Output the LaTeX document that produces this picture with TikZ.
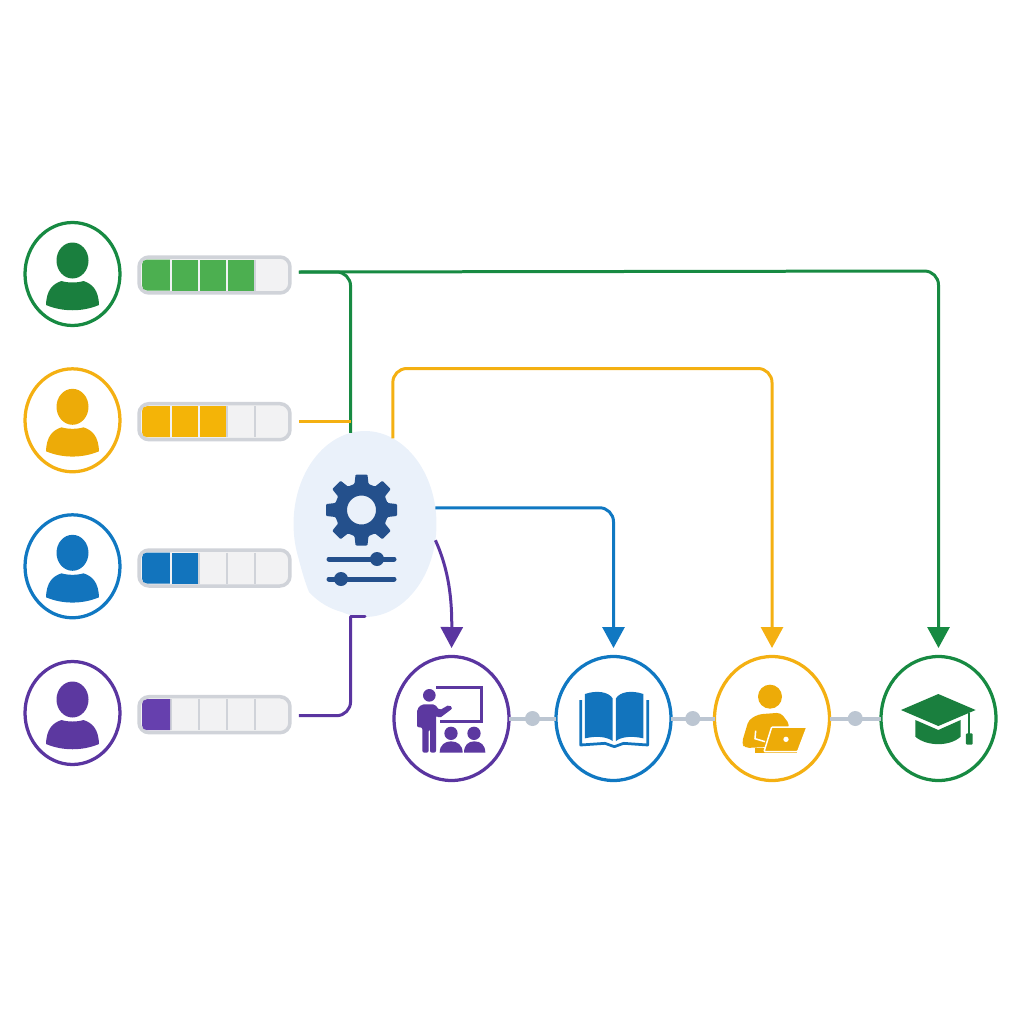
\documentclass[tikz,border=0pt]{standalone}
\usepackage{tikz}
\usepackage{xcolor}
\usetikzlibrary{shapes.geometric, arrows.meta, positioning, calc}

\definecolor{ringGreen}{HTML}{178A42}
\definecolor{darkGreen}{HTML}{1A7F3E}
\definecolor{barGreen}{HTML}{4CAF50}
\definecolor{ringYellow}{HTML}{F4B012}
\definecolor{darkYellow}{HTML}{EDAB08}
\definecolor{barYellow}{HTML}{F4B407}
\definecolor{ringBlue}{HTML}{1078C2}
\definecolor{darkBlue}{HTML}{1274BD}
\definecolor{ringPurple}{HTML}{5A35A0}
\definecolor{darkPurple}{HTML}{5C38A0}
\definecolor{barPurple}{HTML}{6640AE}
\definecolor{engineBlue}{HTML}{EAF1FA}
\definecolor{navyIcon}{HTML}{24508C}
\definecolor{barEdge}{HTML}{D0D3D9}
\definecolor{barInner}{HTML}{F2F2F3}
\definecolor{linkGray}{HTML}{BCC6D2}

\begin{document}
\begin{tikzpicture}[
    x=0.02cm, y=-0.02cm,
    avatar/.style={
        ellipse,
        draw=#1,
        line width=0.065cm,
        inner sep=0pt,
        outer sep=0pt,
        minimum width=1.9cm,
        minimum height=2.06cm
    },
    levelbar/.style={
        rectangle,
        draw=barEdge,
        fill=barInner,
        line width=0.07cm,
        rounded corners=0.2cm,
        inner sep=0pt,
        outer sep=0pt,
        minimum width=3.02cm,
        minimum height=0.72cm
    },
    engine/.style={
        ellipse,
        fill=engineBlue,
        inner sep=0pt,
        outer sep=0pt,
        minimum width=2.86cm,
        minimum height=3.72cm
    },
    stage/.style={
        ellipse,
        draw=#1,
        line width=0.065cm,
        inner sep=0pt,
        outer sep=0pt,
        minimum width=2.3cm,
        minimum height=2.48cm
    },
    stagedot/.style={
        circle,
        fill=linkGray,
        inner sep=0pt,
        minimum size=0.3cm
    },
    stagelink/.style={draw=linkGray, line width=0.08cm},
    route/.style={draw=#1, line width=0.06cm, rounded corners=0.28cm},
    routearrow/.style={
        route=#1,
        shorten >=0.17cm,
        -{Triangle[width=0.44cm, length=0.42cm, fill=#1]}
    },
    person/.pic={
        \fill[pic actions] (0,-13.5) ellipse [x radius=16, y radius=18];
        \fill[pic actions] (-26.5,31) .. controls (-26,16) and (-20,10) .. (-11,7)
            .. controls (-5,9) and (5,9) .. (11,7)
            .. controls (20,10) and (26,16) .. (26.5,31)
            .. controls (10,38) and (-10,38) .. cycle;
    },
    levelcells/.pic={
        \foreach \k in {0,1,2,3} {
            \draw[barEdge, line width=0.04cm] (-43.5+28*\k,-15.5) -- (-43.5+28*\k,15.5);
        }
    },
    levelcell/.pic={
        \fill[pic actions] (-14,-15.5) rectangle (14,15.5);
    },
    levelcap/.pic={
        \fill[pic actions] (14,-15.5) -- (-9,-15.5) .. controls (-12,-15.5) and (-14,-13.5) .. (-14,-10.5)
            -- (-14,10.5) .. controls (-14,13.5) and (-12,15.5) .. (-9,15.5) -- (14,15.5) -- cycle;
    }
]
    \useasboundingbox (0,0) rectangle (1024,1024);

    % =========================================================
    % LEARNERS AND THEIR LEVEL BARS
    % =========================================================
    \node [avatar=ringGreen] (learnerA) at (72.5,274) {};
    \node [avatar=ringYellow] (learnerB) at (72.5,420.3) {};
    \node [avatar=ringBlue] (learnerC) at (72.5,566.3) {};
    \node [avatar=ringPurple] (learnerD) at (72.5,713) {};

    \pic [fill=darkGreen] at (learnerA.center) {person};
    \pic [fill=darkYellow] at (learnerB.center) {person};
    \pic [fill=darkBlue] at (learnerC.center) {person};
    \pic [fill=darkPurple] at (learnerD.center) {person};

    \node [levelbar] (barA) at (214.5,275) {};
    \node [levelbar] (barB) at (214.5,421.7) {};
    \node [levelbar] (barC) at (214.5,568) {};
    \node [levelbar] (barD) at (214.5,714.7) {};

    \pic at (barA.center) {levelcells};
    \pic at (barB.center) {levelcells};
    \pic at (barC.center) {levelcells};
    \pic at (barD.center) {levelcells};

    % filled cells
    \pic [fill=barGreen] at ($(barA.center)+(-58.5,0)$) {levelcap};
    \foreach \k in {1,2,3} {
        \pic [fill=barGreen] at ($(barA.center)+(-58.5+28*\k,0)$) {levelcell};
    }
    \pic [fill=barYellow] at ($(barB.center)+(-58.5,0)$) {levelcap};
    \foreach \k in {1,2} {
        \pic [fill=barYellow] at ($(barB.center)+(-58.5+28*\k,0)$) {levelcell};
    }
    \pic [fill=darkBlue] at ($(barC.center)+(-58.5,0)$) {levelcap};
    \pic [fill=darkBlue] at ($(barC.center)+(-30.5,0)$) {levelcell};
    \pic [fill=barPurple] at ($(barD.center)+(-58.5,0)$) {levelcap};
    \draw[white!70!barEdge, line width=0.035cm] (171,259.5) -- (171,290.5) (199,259.5) -- (199,290.5) (227,259.5) -- (227,290.5);
    \draw[white!70!barEdge, line width=0.035cm] (171,406.2) -- (171,437.2) (199,406.2) -- (199,437.2);
    \draw[white!70!barEdge, line width=0.035cm] (171,552.5) -- (171,583.5);

    % =========================================================
    % ENGINE WITH GEAR AND SLIDERS
    % =========================================================
    \node [engine] (hub) at (365,524) {};
    \fill[engineBlue] (299,560) .. controls (302,572) and (305,582) .. (309,592)
        .. controls (318,602) and (330,609) .. (342,612) -- (365,524) -- cycle;

    \begin{scope}[shift={(361.5,510)}]
        \fill[navyIcon, even odd rule, rounded corners=0.02cm]
            (-15:27) \foreach \a in {0,45,...,315} {
                -- (\a-15:27) -- (\a-9.5:36) -- (\a+9.5:36) -- (\a+15:27)
            } -- cycle
            (0,0) circle (14.5);
    \end{scope}
    \draw[navyIcon, line width=0.1cm, line cap=round] (329,559) -- (394,559);
    \draw[navyIcon, line width=0.1cm, line cap=round] (329,579) -- (394,579);
    \fill[navyIcon] (377,559) circle (7);
    \fill[navyIcon] (341,579) circle (7);

    % =========================================================
    % STAGES ALONG THE BOTTOM
    % =========================================================
    \node [stage=ringPurple] (stageA) at (451.5,718.5) {};
    \node [stage=ringBlue] (stageB) at (613.5,718.5) {};
    \node [stage=ringYellow] (stageC) at (772,718.5) {};
    \node [stage=ringGreen] (stageD) at (938.5,718.5) {};

    \draw [stagelink] (stageA) -- node[stagedot] (dotA) {} (stageB);
    \draw [stagelink] (stageB) -- node[stagedot] (dotB) {} (stageC);
    \draw [stagelink] (stageC) -- node[stagedot] (dotC) {} (stageD);

    % teacher at board
    \begin{scope}[shift={(380,640)}, x=0.00667cm, y=-0.00667cm]
        \draw[darkPurple, line width=0.055cm] (168,143) -- (304,143) -- (304,245) -- (180,245);
        \fill[darkPurple] (148,166) circle (19);
        \fill[darkPurple, rounded corners=0.04cm] (125,193) -- (165,193) -- (178,211) -- (208,194)
            -- (218,205) -- (178,235) -- (168,226) -- (168,338) -- (150,338) -- (150,268)
            -- (146,268) -- (146,338) -- (127,338) -- (127,262) -- (111,262) -- (111,208) -- cycle;
        \fill[darkPurple] (213,280) circle (20);
        \fill[darkPurple] (282,280) circle (20);
        \fill[darkPurple] (179,338) .. controls (179,315) and (195,304) .. (213,304)
            .. controls (232,304) and (248,315) .. (248,338) -- cycle;
        \fill[darkPurple] (252,338) .. controls (252,315) and (265,304) .. (283,304)
            .. controls (302,304) and (316,315) .. (316,338) -- cycle;
    \end{scope}

    % open book
    \begin{scope}[shift={(380,640)}, x=0.00667cm, y=-0.00667cm]
        \fill[darkBlue] (615,162) .. controls (650,150) and (685,155) .. (698,175)
            -- (698,303) .. controls (680,290) and (650,287) .. (615,295) -- cycle;
        \fill[darkBlue] (790,162) .. controls (755,150) and (720,155) .. (708,175)
            -- (708,303) .. controls (725,290) and (755,287) .. (790,295) -- cycle;
        \draw[darkBlue, line width=0.055cm, line join=round] (602,180) -- (602,315)
            -- (675,310) -- (703,320) -- (731,310) -- (803,315) -- (803,180);
    \end{scope}

    % learner at laptop
    \begin{scope}[shift={(690,640)}, x=0.00667cm, y=-0.00667cm]
        \fill[darkYellow] (240,170) circle (36);
        \fill[darkYellow, rounded corners=0.08cm] (205,223) -- (272,218) -- (300,255) -- (260,320)
            -- (165,324) -- (155,310) -- (176,240) -- cycle;
        \draw[white, line width=0.03cm] (197,272) -- (195,296) -- (225,305);
        \fill[darkYellow] (195,325) rectangle (322,338);
        \fill[darkYellow, draw=white, line width=0.03cm, rounded corners=0.02cm] (245,261) -- (351,261) -- (323,335) -- (222,335) -- cycle;
        \fill[white] (288,298) circle (8);
    \end{scope}

    % graduation cap
    \begin{scope}[shift={(690,640)}, x=0.00667cm, y=-0.00667cm]
        \fill[darkGreen] (745,162) -- (857,210) -- (745,258) -- (633,210) -- cycle;
        \fill[darkGreen] (676,240) -- (745,270) -- (812,240) -- (812,290)
            .. controls (780,320) and (710,320) .. (676,290) -- cycle;
        \draw[darkGreen, line width=0.04cm] (838,218) -- (838,285);
        \fill[darkGreen, rounded corners=0.02cm] (828,280) rectangle (848,314);
    \end{scope}

    % =========================================================
    % ROUTES FROM BARS INTO THE ENGINE AND OUT TO THE STAGES
    % =========================================================
    \coordinate (trunk) at (hub.99);
    \coordinate (startA) at ($(barA.east)+(9,-3)$);
    \coordinate (startB) at ($(barB.east)+(9,0)$);
    \coordinate (startD) at ($(barD.east)+(9,1)$);
    \coordinate (topA) at ($(stageD.north)+(0,-385.5)$);
    \coordinate (topC) at ($(stageC.north)+(0,-288)$);

    \draw [route=ringGreen] (startA) -- (startA -| trunk) -- (trunk);
    \draw [routearrow=ringGreen] (startA) -- (topA) -- (stageD.north);

    \draw [route=ringYellow] (startB) -- (startB -| trunk);
    \draw [routearrow=ringYellow] (hub.72) -- (hub.72 |- topC) -- (topC) -- (stageC.north);

    \draw [routearrow=ringBlue] (hub.13.6) -- (hub.13.6 -| stageB.north) -- (stageB.north);

    \draw [route=ringPurple] (startD) -- (startD -| trunk) -- (trunk |- hub.south);
    \draw [draw=ringPurple, line width=0.06cm, line cap=round] (trunk |- hub.south) -- (hub.south);
    \path [draw=ringPurple, line width=0.06cm, shorten >=0.17cm, -{Triangle[width=0.44cm, length=0.42cm, fill=ringPurple]}]
        (hub.-13) .. controls (449,570) and (452,600) .. (stageA.north);

\end{tikzpicture}
\end{document}
